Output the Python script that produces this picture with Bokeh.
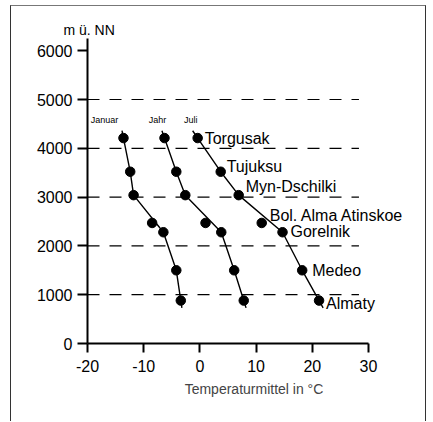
from bokeh.plotting import figure
from bokeh.models import Range1d, ColumnDataSource, LabelSet, Label, FixedTicker
from bokeh.core.properties import value
from bokeh.embed import file_html
from bokeh.resources import INLINE

# Stations of the Alma-Ata valley profile, from the foot to the upper station
stations = ["Almaty", "Medeo", "Gorelnik", "Bol. Alma Atinskoe",
            "Myn-Dschilki", "Tujuksu", "Torgusak"]
altitude_m = [880, 1500, 2280, 2470, 3040, 3520, 4210]

# Mean temperatures (°C)
temp_januar = [-3.4, -4.2, -6.5, -8.5, -11.8, -12.4, -13.6]
temp_jahr = [7.8, 6.1, 3.8, 1.0, -2.6, -4.2, -6.3]
temp_juli = [21.2, 18.2, 14.7, 11.0, 6.9, 3.7, -0.4]

series_names = ["Januar", "Jahr", "Juli"]
x_ticks = [-20, -10, 0, 10, 20, 30]
y_ticks = [0, 1000, 2000, 3000, 4000, 5000, 6000]
grid_levels = [1000, 2000, 3000, 4000, 5000]

# stations used for the drawn gradient line (Bol. Alma Atinskoe lies off it)
line_stations = ["Almaty", "Medeo", "Gorelnik", "Myn-Dschilki", "Tujuksu", "Torgusak"]

FONT = "Liberation Sans"

# the frame runs on to the right so that the station names have room;
# the temperature axis itself stops at 30 °C
p = figure(width=416, height=416, output_backend="svg", toolbar_location=None,
           x_range=Range1d(-20, 39.25), y_range=Range1d(0, 6250),
           min_border_left=76, min_border_right=7,
           min_border_top=32, min_border_bottom=79)
p.margin = (5, 0, 0, 10)
p.styles = {"border-left": "1px solid #333", "border-top": "1px solid #777",
            "border-right": "1px solid #333"}
p.outline_line_color = None
p.grid.visible = False
p.background_fill_color = "white"
p.border_fill_color = "white"

# unit of the altitude axis, shown above its upper end
p.title.text = "m ü. NN"
p.title.align = "left"
p.title.offset = -24
p.title.standoff = 2
p.title.text_font = FONT
p.title.text_font_style = "normal"
p.title.text_font_size = "14px"
p.title.text_color = "black"

for ax in (p.xaxis[0], p.yaxis[0]):
    ax.axis_line_width = 2
    ax.axis_line_color = "black"
    ax.major_tick_line_width = 2
    ax.major_tick_line_color = "black"
    ax.major_tick_in = 0
    ax.minor_tick_line_color = None
    ax.major_label_text_font = FONT
    ax.major_label_text_font_size = "16px"
    ax.major_label_text_color = "black"

p.xaxis.bounds = (-20, 30)
p.xaxis.ticker = FixedTicker(ticks=x_ticks)
p.xaxis.major_label_overrides = {t: str(t) for t in x_ticks}
p.yaxis.ticker = FixedTicker(ticks=y_ticks)
p.xaxis.major_tick_out = 9
p.yaxis.major_tick_out = 10
p.xaxis.major_label_standoff = 7
p.yaxis.major_label_standoff = 5
p.xaxis.axis_label = "Temperaturmittel in °C"
p.xaxis.axis_label_text_font = FONT
p.xaxis.axis_label_text_font_style = "normal"
p.xaxis.axis_label_text_font_size = "14px"
p.xaxis.axis_label_standoff = 6

# dashed altitude levels
p.segment(x0=[-20] * len(grid_levels), x1=[28.3] * len(grid_levels),
          y0=grid_levels, y1=grid_levels, line_color="black",
          line_width=1.2, line_dash="12 10")


def extend(ts, hs, dh=150):
    """Prolong the profile a little beyond both end stations."""
    t0 = ts[0] - (ts[1] - ts[0]) / (hs[1] - hs[0]) * dh
    t1 = ts[-1] + (ts[-1] - ts[-2]) / (hs[-1] - hs[-2]) * dh
    return [t0] + ts + [t1], [hs[0] - dh] + hs + [hs[-1] + dh]


line_idx = [stations.index(s) for s in line_stations]
for temps in (temp_januar, temp_jahr, temp_juli):
    lt, lh = extend([temps[i] for i in line_idx], [altitude_m[i] for i in line_idx])
    p.line(lt, lh, line_color="black", line_width=1.4)
    p.scatter(temps, altitude_m, size=9.5, color="black")

# station names next to the July profile
name_dx = [7, 10, 8, 8, 7, 6, 7]
name_dy = [-3, 0, 1, 7, 9, 5, 0]
src = ColumnDataSource(dict(x=temp_juli, y=altitude_m, name=stations,
                            dx=name_dx, dy=name_dy))
p.add_layout(LabelSet(x="x", y="y", text="name", source=src,
                      x_offset="dx", y_offset="dy",
                      text_font=value(FONT), text_font_size=value("16px"),
                      text_baseline="middle", text_align="left",
                      text_color="black"))

# series names above the upper ends of the profiles
top_temps = [temp_januar[-1], temp_jahr[-1], temp_juli[-1]]
series_dx = [-19, -7, -7]
for name, t, dx in zip(series_names, top_temps, series_dx):
    p.add_layout(Label(x=t, y=altitude_m[-1], text=name, x_offset=dx, y_offset=18,
                       text_font=FONT, text_font_size="9px",
                       text_baseline="middle", text_align="center",
                       text_color="black"))

open("out.html", "w").write(file_html(p, INLINE))
